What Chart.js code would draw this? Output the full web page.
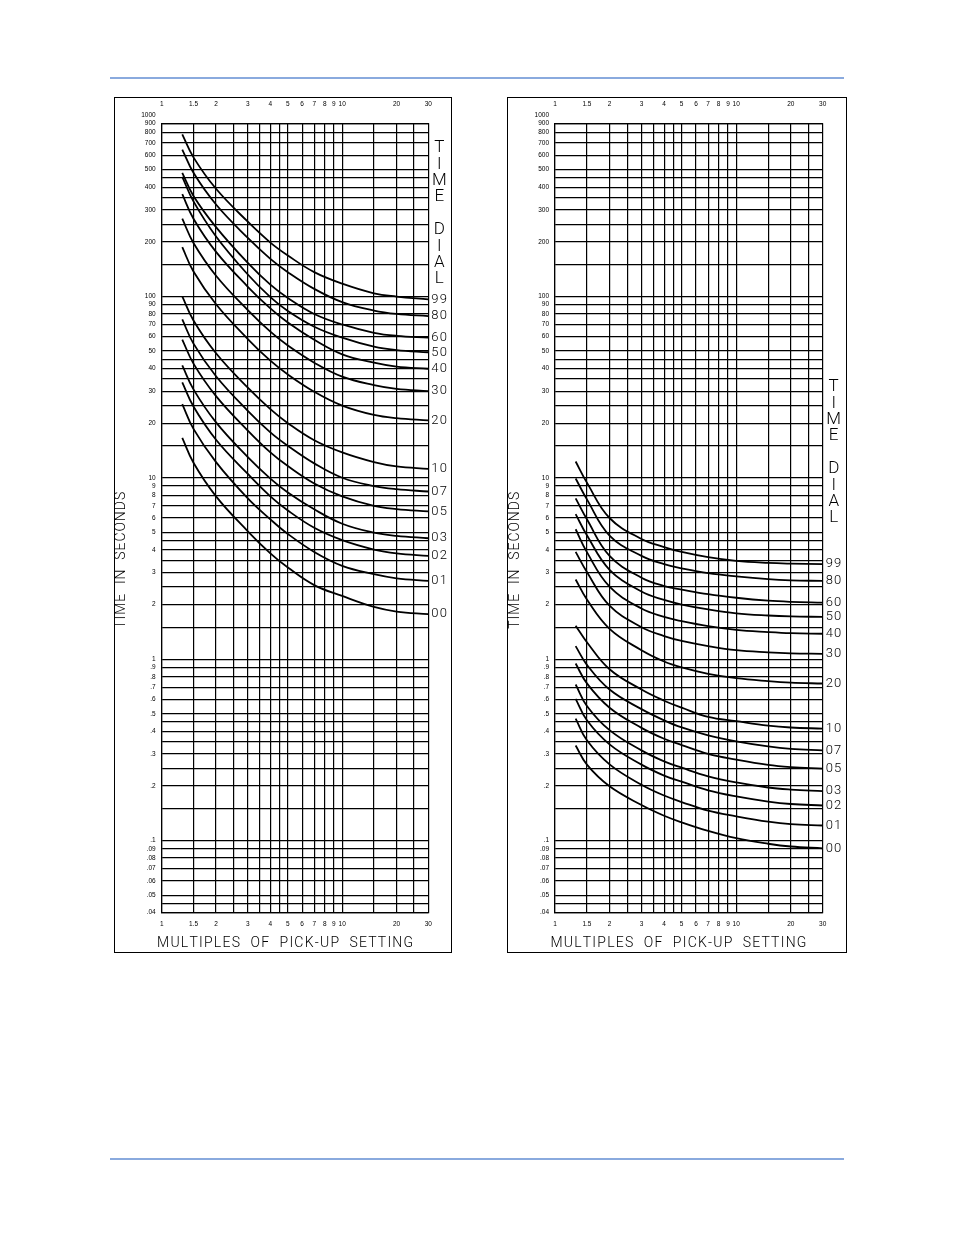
<!DOCTYPE html>
<html>
<head>
<meta charset="utf-8">
<script src="https://cdn.jsdelivr.net/npm/chart.js@4.4.1/dist/chart.umd.min.js"></script>
<style>
  html, body { margin: 0; padding: 0; background: #fff; }
  body { width: 954px; height: 1235px; position: relative; overflow: hidden; }
  .rule { position: absolute; left: 110px; width: 734px; height: 1.5px; background: #8aaade; }
  .frame { position: absolute; top: 97px; height: 856px; border: 1px solid #000; box-sizing: border-box; }
  .frame canvas { display: block; }
</style>
</head>
<body>
<div class="rule" style="top:77px"></div>
<div class="rule" style="top:1158px"></div>
<div class="frame" style="left:114px;width:338px"><canvas id="leftSheet" width="336" height="854"></canvas></div>
<div class="frame" style="left:507px;width:340px"><canvas id="rightSheet" width="338" height="854"></canvas></div>
<script>
// multiples of pick-up where the curves were read
const pickupMultiples = [1.3, 1.5, 2, 3, 4, 5, 7, 10, 15, 20, 30];
const dialLabels = ['99', '80', '60', '50', '40', '30', '20', '10', '07', '05', '03', '02', '01', '00'];

// left sheet, time in seconds
const left99 = [782, 584, 392, 258, 198, 168, 136, 117.5, 104, 99.8, 96.2];
const left80 = [645, 480, 321, 210, 161, 136, 110, 93, 83.5, 80, 77.8];
const left60 = [480, 358, 241, 153, 116, 98, 80, 70, 63, 60.6, 59.2];
const left50 = [456, 334, 214, 132, 99, 83, 68, 59.2, 52.8, 50.6, 49.2];
const left40 = [366, 268, 176, 113, 85.8, 71.7, 57.6, 47.9, 43.1, 41.0, 39.9];
const left30 = [268, 197, 130, 84, 63.9, 53.6, 43.1, 36.1, 32.4, 30.9, 30.0];
const left20 = [187, 137, 90.5, 58.2, 44.2, 37.1, 29.8, 25.0, 22.2, 21.3, 20.7];
const left10 = [100, 73.7, 48.6, 31.4, 23.9, 20.0, 16.1, 13.8, 12.2, 11.55, 11.2];
const left07 = [74.6, 54.9, 36.3, 23.4, 17.8, 15.0, 12.0, 10.0, 9.0, 8.65, 8.4];
const left05 = [57.8, 42.6, 28.2, 18.2, 13.8, 11.6, 9.3, 7.9, 7.0, 6.72, 6.52];
const left03 = [41.6, 30.7, 20.2, 13.0, 9.9, 8.3, 6.7, 5.58, 4.98, 4.78, 4.64];
const left02 = [33.6, 24.7, 16.2, 10.5, 7.9, 6.6, 5.3, 4.53, 4.02, 3.83, 3.71];
const left01 = [25.5, 18.6, 12.2, 7.7, 5.9, 4.9, 3.9, 3.27, 2.94, 2.79, 2.70];
const left00 = [16.6, 12.1, 7.9, 5.07, 3.83, 3.2, 2.56, 2.23, 1.94, 1.83, 1.77];

// right sheet, time in seconds
const right99 = [12.3, 9.4, 6.0, 4.6, 4.15, 3.9, 3.65, 3.48, 3.39, 3.36, 3.34];
const right80 = [9.9, 7.6, 4.8, 3.71, 3.34, 3.17, 2.98, 2.86, 2.76, 2.72, 2.70];
const right60 = [7.7, 5.9, 3.71, 2.81, 2.53, 2.42, 2.28, 2.18, 2.10, 2.07, 2.05];
const right50 = [6.3, 4.82, 3.11, 2.36, 2.12, 2.0, 1.88, 1.79, 1.74, 1.72, 1.71];
const right40 = [5.2, 3.89, 2.51, 1.90, 1.71, 1.62, 1.52, 1.45, 1.41, 1.39, 1.38];
const right30 = [3.9, 3.02, 1.97, 1.50, 1.34, 1.26, 1.18, 1.12, 1.09, 1.077, 1.07];
const right20 = [2.75, 2.13, 1.47, 1.12, 0.97, 0.90, 0.83, 0.785, 0.756, 0.742, 0.734];
const right10 = [1.53, 1.24, 0.88, 0.68, 0.59, 0.54, 0.48, 0.455, 0.43, 0.42, 0.414];
const right07 = [1.18, 0.93, 0.68, 0.53, 0.46, 0.42, 0.38, 0.352, 0.33, 0.32, 0.314];
const right05 = [0.946, 0.735, 0.54, 0.418, 0.364, 0.336, 0.30, 0.279, 0.261, 0.254, 0.249];
const right03 = [0.725, 0.552, 0.406, 0.314, 0.273, 0.252, 0.226, 0.209, 0.196, 0.191, 0.187];
const right02 = [0.604, 0.46, 0.339, 0.262, 0.228, 0.211, 0.189, 0.175, 0.164, 0.159, 0.156];
const right01 = [0.470, 0.357, 0.263, 0.203, 0.177, 0.163, 0.146, 0.136, 0.127, 0.123, 0.121];
const right00 = [0.334, 0.262, 0.199, 0.157, 0.137, 0.126, 0.113, 0.103, 0.096, 0.0927, 0.0906];

// axes
const xTickLabels = [1, 1.5, 2, 3, 4, 5, 6, 7, 8, 9, 10, 20, 30];
const xGridLines = [1, 1.5, 2, 2.5, 3, 3.5, 4, 4.5, 5, 6, 7, 8, 9, 10, 15, 20, 25, 30];
const yDecades = [1000, 100, 10, 1, 0.1];
const yGridSteps = [1, 0.9, 0.8, 0.7, 0.6, 0.5, 0.45, 0.4, 0.35, 0.3, 0.25, 0.2, 0.15];
const yLabelSteps = [1, 0.9, 0.8, 0.7, 0.6, 0.5, 0.4, 0.3, 0.2];
const yMin = 0.04;
const yMax = 900;

const round = v => parseFloat(v.toPrecision(6));
const yGridLines = [];
const yLabelValues = [];
yDecades.forEach(d => {
    yGridSteps.forEach(s => yGridLines.push(round(d * s)));
    yLabelSteps.forEach(s => yLabelValues.push(round(d * s)));
});
const gridInRange = yGridLines.filter(v => v >= yMin && v <= yMax);
const labelsInPlay = yLabelValues.filter(v => v >= yMin);

const sameValue = (a, b) => Math.abs(a - b) < b * 1e-6;
const fmtY = v => v >= 1 ? String(v) : String(v).replace(/^0/, '');

// draws text with even letter spacing so it spans `width`, centred on cx
function fitText(ctx, text, cx, cy, width) {
    const chars = text.split('');
    const widths = chars.map(c => ctx.measureText(c).width);
    const total = widths.reduce((a, b) => a + b, 0);
    const gap = (width - total) / (chars.length - 1);
    let x = cx - width / 2;
    chars.forEach((c, i) => {
        ctx.fillText(c, x, cy);
        x += widths[i] + gap;
    });
}

function spacedText(ctx, text, x, y, gap) {
    text.split('').forEach(c => {
        ctx.fillText(c, x, y);
        x += ctx.measureText(c).width + gap;
    });
}

const sheetText = {
    id: 'sheetText',
    afterDraw(chart, args, opts) {
        const {ctx, chartArea: area} = chart;
        const yScale = chart.scales.y;
        ctx.save();
        ctx.fillStyle = '#000';

        // label above the top grid line (1000)
        ctx.font = '6.5px "Liberation Sans"';
        ctx.textAlign = 'right';
        ctx.textBaseline = 'middle';
        yLabelValues.filter(v => v > yMax).forEach(v => {
            ctx.fillText(fmtY(v), area.left - 6, yScale.getPixelForValue(v));
        });

        // dial setting next to each curve end
        ctx.font = '300 13px Roboto';
        ctx.textAlign = 'left';
        chart.data.datasets.forEach(ds => {
            const end = ds.data[ds.data.length - 1];
            spacedText(ctx, ds.label, area.right + 3, yScale.getPixelForValue(end.y), 1.2);
        });

        // TIME DIAL written downwards
        ctx.font = '300 17px Roboto';
        ctx.textAlign = 'center';
        'TIME DIAL'.split('').forEach((c, i) => {
            ctx.fillText(c, area.right + 11, area.top + opts.dialTop + i * 16.4);
        });

        // axis titles
        ctx.font = '300 14px Roboto';
        ctx.textAlign = 'left';
        fitText(ctx, 'MULTIPLES  OF  PICK-UP  SETTING', area.left + 123.4, area.bottom + 30.6, 256);
        ctx.translate(area.left - 40, area.top + 437);
        ctx.rotate(-Math.PI / 2);
        fitText(ctx, 'TIME  IN  SECONDS', 0, 0, 137);
        ctx.restore();
    }
};

const tickFont = {family: 'Liberation Sans', size: 6.5};

function makeSheet(canvasId, series, yWidth, rightPad, dialTop) {
    return new Chart(document.getElementById(canvasId), {
        type: 'scatter',
        data: {
            datasets: series.map((vals, i) => ({
                label: dialLabels[i],
                data: pickupMultiples.map((m, j) => ({x: m, y: vals[j]})),
                showLine: true,
                borderColor: '#000',
                borderWidth: 1.8,
                pointRadius: 0,
                tension: 0.4
            }))
        },
        options: {
            responsive: false,
            animation: false,
            events: [],
            layout: {padding: {left: 0, right: rightPad, top: 0, bottom: 0}},
            plugins: {
                legend: {display: false},
                tooltip: {enabled: false},
                sheetText: {dialTop: dialTop}
            },
            scales: {
                x: {
                    type: 'logarithmic',
                    position: 'bottom',
                    min: 1,
                    max: 30,
                    afterBuildTicks: axis => { axis.ticks = xGridLines.map(v => ({value: v})); },
                    afterFit: axis => { axis.height = 39.3; },
                    ticks: {
                        autoSkip: false, maxRotation: 0, minRotation: 0, padding: 8,
                        color: '#000', font: tickFont,
                        callback: v => xTickLabels.some(t => sameValue(v, t)) ? String(v) : ''
                    },
                    grid: {color: '#000', lineWidth: 1.2, drawTicks: false},
                    border: {color: '#000', width: 1.2}
                },
                x2: {
                    type: 'logarithmic',
                    axis: 'x',
                    position: 'top',
                    min: 1,
                    max: 30,
                    afterBuildTicks: axis => { axis.ticks = xGridLines.map(v => ({value: v})); },
                    afterFit: axis => { axis.height = 25.3; },
                    ticks: {
                        autoSkip: false, maxRotation: 0, minRotation: 0, padding: 15,
                        color: '#000', font: tickFont,
                        callback: v => xTickLabels.some(t => sameValue(v, t)) ? String(v) : ''
                    },
                    grid: {display: false, drawTicks: false},
                    border: {color: '#000', width: 1.2}
                },
                y: {
                    type: 'logarithmic',
                    min: yMin,
                    max: yMax,
                    afterBuildTicks: axis => { axis.ticks = gridInRange.map(v => ({value: v})); },
                    afterFit: axis => { axis.width = yWidth; },
                    ticks: {
                        autoSkip: false, padding: 6,
                        color: '#000', font: tickFont,
                        callback: v => labelsInPlay.some(t => sameValue(v, t)) ? fmtY(v) : ''
                    },
                    grid: {color: '#000', lineWidth: 1.2, drawTicks: false},
                    border: {color: '#000', width: 1.2}
                }
            }
        },
        plugins: [sheetText]
    });
}

makeSheet('leftSheet',
    [left99, left80, left60, left50, left40, left30, left20, left10, left07, left05, left03, left02, left01, left00],
    46.7, 22.7, 24.7);
makeSheet('rightSheet',
    [right99, right80, right60, right50, right40, right30, right20, right10, right07, right05, right03, right02, right01, right00],
    47, 23.3, 263.7);
</script>
</body>
</html>
